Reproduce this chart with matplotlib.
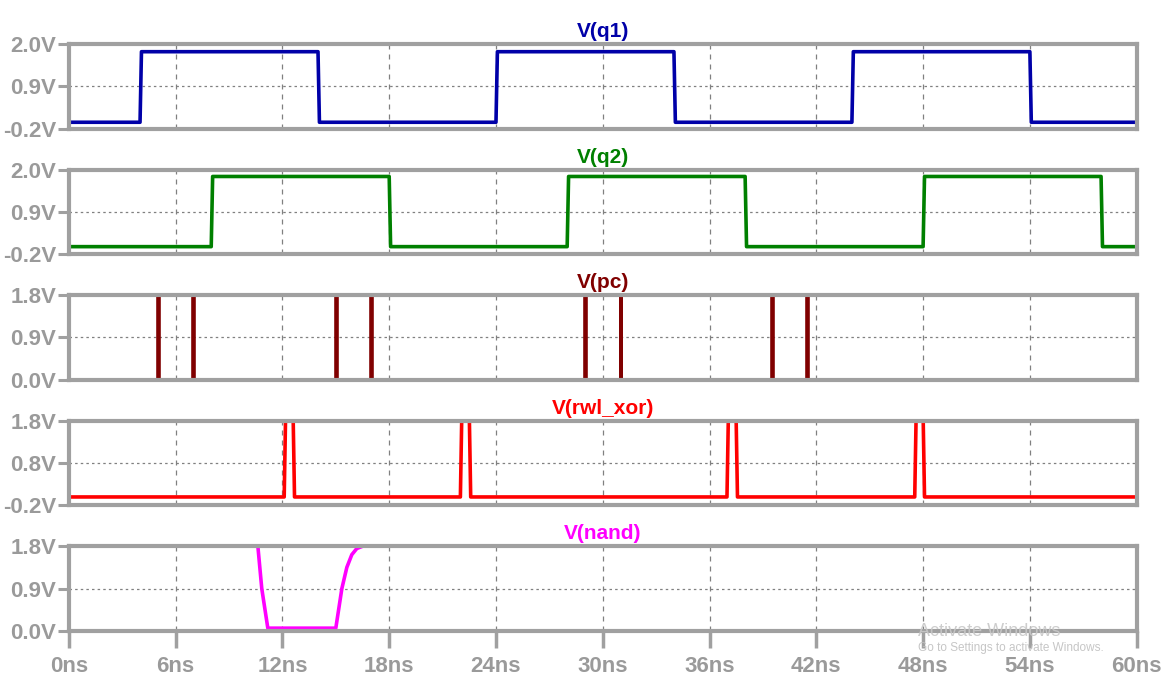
import matplotlib
matplotlib.use("Agg")
import matplotlib.pyplot as plt
from matplotlib.ticker import FuncFormatter

plt.rcParams["font.family"] = ["Liberation Sans", "DejaVu Sans"]

# ---- data (time in ns, voltage in V) ----
q1_rise = [4.0, 24.0, 44.0]
q1_fall = [14.0, 34.0, 54.0]
q1_low, q1_high = -0.03, 1.80

q2_rise = [8.0, 28.0, 48.0]
q2_fall = [18.0, 38.0, 58.0]
q2_low, q2_high = 0.0, 1.82

pc_pulses = [5.0, 7.0, 15.0, 17.0, 29.0, 31.0, 39.5, 41.5]
pc_low, pc_high = 0.0, 1.8

rwl_rise = [12.1, 22.0, 36.98, 47.53]
rwl_fall = [12.6, 22.5, 37.49, 48.0]
rwl_low, rwl_high = 0.0, 1.95

nand_t = [0.0, 10.55, 10.62, 10.84, 11.18, 15.0, 15.34, 15.62, 15.9, 16.18, 16.52, 16.8, 60.0]
nand_v = [1.9, 1.9, 1.8, 0.9, 0.06, 0.06, 0.9, 1.35, 1.62, 1.75, 1.8, 1.9, 1.9]

titles = ["V(q1)", "V(q2)", "V(pc)", "V(rwl_xor)", "V(nand)"]
colors = ["#0000a8", "#008000", "#800000", "#ff0000", "#ff00ff"]
ylims = [(-0.2, 2.0), (-0.2, 2.0), (0.0, 1.8), (-0.2, 1.8), (0.0, 1.8)]
yticks = [[-0.2, 0.9, 2.0], [-0.2, 0.9, 2.0], [0.0, 0.9, 1.8], [-0.2, 0.8, 1.8], [0.0, 0.9, 1.8]]
xticks = [0, 6, 12, 18, 24, 30, 36, 42, 48, 54, 60]


def square(rises, falls, lo, hi, tr=0.08):
    # piecewise-linear step trace from edge times
    edges = sorted([(r, lo, hi) for r in rises] + [(f, hi, lo) for f in falls])
    t, v = [0.0], [lo]
    for e, a, b in edges:
        t += [e, e + tr]
        v += [a, b]
    t.append(60.0)
    v.append(v[-1])
    return t, v


def pulses(times, lo, hi, w=0.04):
    t, v = [0.0], [lo]
    for p in times:
        t += [p, p, p + w, p + w]
        v += [lo, hi, hi, lo]
    t.append(60.0)
    v.append(lo)
    return t, v


traces = [
    square(q1_rise, q1_fall, q1_low, q1_high),
    square(q2_rise, q2_fall, q2_low, q2_high),
    pulses(pc_pulses, pc_low, pc_high),
    square(rwl_rise, rwl_fall, rwl_low, rwl_high),
    (nand_t, nand_v),
]

fig, axes = plt.subplots(5, 1, figsize=(11.67, 6.82), dpi=100, sharex=True)
fig.subplots_adjust(left=0.059, right=0.974, top=0.9355, bottom=0.0748, hspace=0.48)

grey = "#a0a0a0"
for i, ax in enumerate(axes):
    t, v = traces[i]
    ax.plot(t, v, color=colors[i], lw=2.6, solid_joinstyle="round")
    ax.set_xlim(0, 60)
    ax.set_ylim(*ylims[i])
    ax.set_yticks(yticks[i])
    ax.set_xticks(xticks)
    ax.yaxis.set_major_formatter(FuncFormatter(lambda y, p: f"{y:.1f}V"))
    ax.xaxis.set_major_formatter(FuncFormatter(lambda x, p: f"{x:.0f}ns"))

    # grid: dashed verticals, dotted middle horizontal
    for x in xticks[1:-1]:
        ax.axvline(x, color="#808080", lw=0.9, ls=(0, (4, 4)), zorder=1)
    ax.axhline(yticks[i][1], color="#808080", lw=0.9, ls=(0, (2, 2.5)), zorder=1)

    for s in ax.spines.values():
        s.set_color(grey)
        s.set_linewidth(3)

    ax.tick_params(axis="y", colors=grey, length=8, width=2.2, pad=1,
                   labelsize=16, labelcolor="#9a9a9a")
    for lab in ax.get_yticklabels():
        lab.set_fontweight("bold")

    if i < 4:
        ax.tick_params(axis="x", length=0, labelbottom=False)
    else:
        ax.tick_params(axis="x", colors=grey, length=12, width=2.5, pad=6,
                       labelsize=16, labelcolor="#9a9a9a")
        for lab in ax.get_xticklabels():
            lab.set_fontweight("bold")

    ax.set_title(titles[i], color=colors[i], fontsize=15, fontweight="bold", pad=5)

# screen watermark present in the capture
fig.text(0.787, 0.068, "Activate Windows", fontsize=13, color="#c8c8c8", alpha=0.9)
fig.text(0.787, 0.045, "Go to Settings to activate Windows.", fontsize=8.5, color="#c0c0c0", alpha=0.9)

plt.savefig("out.png", dpi=100)
